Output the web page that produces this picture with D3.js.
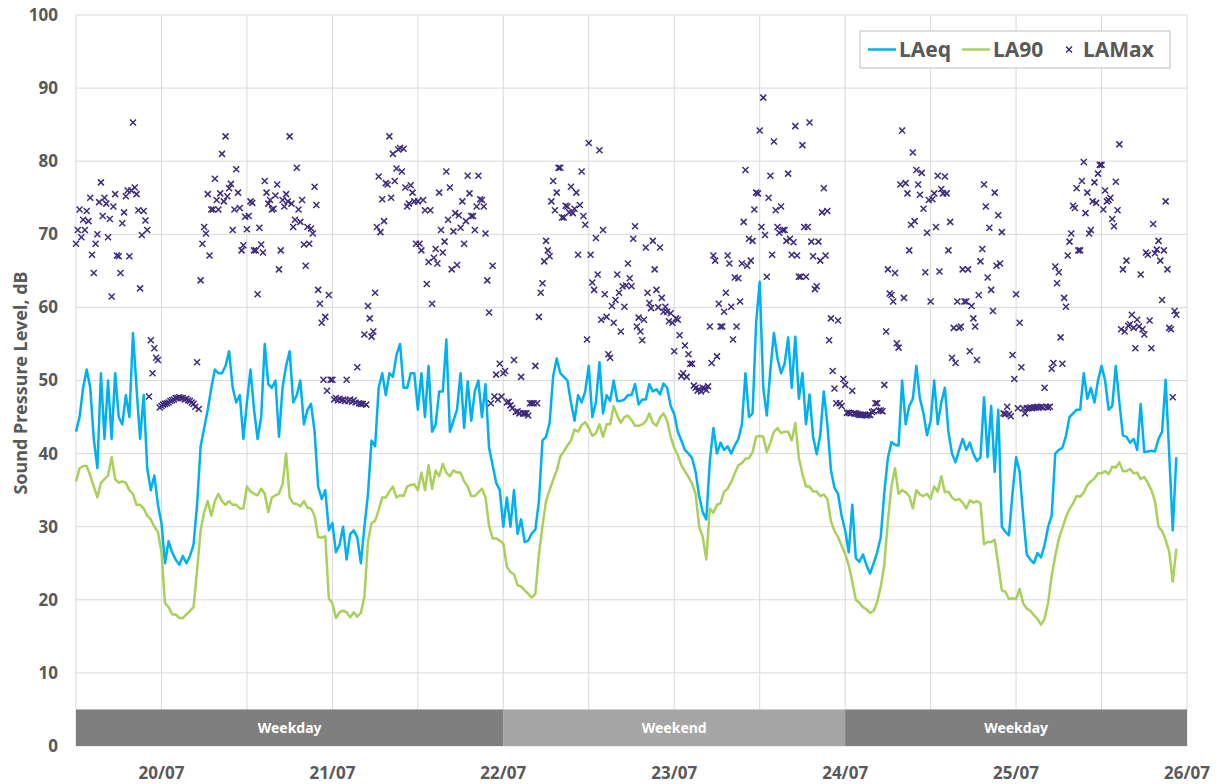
<!DOCTYPE html>
<html>
<head>
<meta charset="utf-8">
<script src="https://cdn.jsdelivr.net/npm/d3@7"></script>
<style>
  body { margin: 0; background: #fff; }
  text { font-family: "Noto Sans", sans-serif; }
</style>
</head>
<body>
<svg id="chart" width="1224" height="784"></svg>
<script>
// half-hourly readings, the first one is 19/07 12:00, one row = 12 hours
let startTime = new Date(2017, 6, 19, 12, 0)
let stepMinutes = 30

let laeq = [
  43, 45, 49, 51.5, 49, 42, 38, 51, 42, 50, 42, 51, 45, 44, 48, 45, 56.5, 49, 42, 48, 38, 35, 37, 33,
  30.5, 25, 28, 26.5, 25.5, 24.8, 26, 25, 26, 27.5, 33, 41, 43.5, 46, 49, 51.5, 51, 51, 52, 54, 49, 47, 48, 42,
  47, 51.5, 46, 42, 45, 55, 49.5, 49, 50, 42.3, 49, 52, 54, 47, 48, 50, 44, 46, 46.8, 43, 35.5, 33.8, 35, 29.5,
  30.5, 26.5, 27.5, 30, 25.5, 29, 29.5, 28.5, 25, 30, 34.5, 41.8, 41, 49, 51, 48, 51, 50.5, 53.5, 55, 49, 49, 51, 51,
  46, 51, 45, 52, 43, 44, 48.5, 48.5, 55.6, 43, 44.5, 46, 51, 43.5, 49.9, 44.5, 48.5, 50, 45, 49.5, 40.8, 38.4, 36, 35,
  30, 34, 30, 35, 29, 31, 27.9, 28.1, 29.1, 29.6, 33.5, 41.8, 42.3, 44.2, 50.6, 53, 51, 50.5, 50, 47, 44.5, 48, 47, 48.5,
  52, 45, 47, 52.5, 45.5, 48, 47.2, 50, 47.2, 47.2, 47.4, 48, 48, 49.5, 46.7, 47.4, 47.4, 49.5, 48.5, 48.8, 48.1, 49.6, 49, 46.5,
  45.4, 43, 41.8, 40.5, 40, 39.4, 37.5, 34.2, 32, 31, 39, 43.5, 40, 41.5, 40.5, 41, 40, 41.1, 42, 44, 51, 45, 45.5, 57.9,
  63.5, 49, 45.2, 51.5, 56.5, 53, 51, 52.3, 55.9, 49, 56, 47.5, 51, 44, 48.1, 42.3, 39.9, 42.5, 48.5, 44, 37.8, 35.3, 34.5, 31.5,
  29.5, 26.5, 33, 25.7, 25.2, 26.2, 24.7, 23.6, 25, 26.5, 28.6, 34.7, 39.4, 41.6, 41.2, 41.1, 50, 44, 46.5, 47.5, 52, 47.5, 45.5, 42.5,
  44.5, 50, 44, 47, 49, 43, 40, 38.8, 40.5, 42, 40.5, 41.5, 40, 39, 39.5, 47.7, 39.5, 46.5, 37.5, 46, 30, 29.3, 28.8, 34.6,
  39.5, 37.5, 31.5, 26.2, 25.5, 25, 26.4, 25.8, 27.5, 30, 31.5, 40, 40.5, 40.8, 42.4, 45, 45.5, 46, 46, 51, 47.5, 49, 47, 50,
  52, 50, 46, 46.5, 52, 47, 42.5, 42.3, 41.5, 42, 40.5, 46.8, 40.2, 40.3, 40.4, 40.3, 42, 43, 50.1, 40, 29.5, 39.5
]

let la90 = [
  36.2, 38, 38.3, 38.3, 37, 35.5, 34, 36, 36.5, 37, 39.5, 36.5, 36, 36.2, 36, 35, 34.5, 33, 33, 32.5, 31.5, 31, 30, 29.3,
  26.5, 19.5, 19, 18, 18, 17.5, 17.5, 18, 18.5, 19, 24, 29.5, 32, 33.5, 31.5, 33.5, 34.5, 33.5, 33, 33.5, 33, 33, 32.5, 32.5,
  35.5, 34.8, 34.5, 34.3, 35.2, 34.5, 32, 34, 34.3, 34.5, 35.8, 40, 34, 33.2, 33.1, 32.8, 33.5, 32.6, 32.5, 31.5, 28.6, 28.5, 28.7, 20.2,
  19.5, 17.5, 18.3, 18.5, 18.3, 17.6, 18.3, 17.7, 18.2, 20.5, 28, 30.5, 30.8, 32.3, 34, 34, 34.8, 35.5, 34, 34.3, 34.2, 35.5, 35.7, 35.8,
  35, 37.4, 35, 38.4, 35.2, 37.7, 36.9, 38.6, 37.4, 36.9, 37.7, 37.4, 37.4, 36.2, 35.5, 34.2, 34.2, 34.7, 35.2, 34, 30.1, 28.4, 28.4, 28.1,
  27.7, 24.5, 23.8, 23.5, 22, 21.8, 21.3, 20.8, 20.3, 20.8, 26.2, 30.1, 33.5, 35, 36.4, 37.7, 39.6, 40.3, 41.1, 41.8, 43.3, 43, 43.9, 44.3,
  43.5, 42.4, 42.8, 44, 42.3, 44, 44, 46.5, 45.2, 44.2, 45, 45.2, 44.6, 43.8, 43.8, 44, 44.4, 45.5, 44.2, 43.8, 44.9, 45.5, 44.5, 42.3,
  40.8, 39.8, 38.4, 37.6, 36.8, 35.9, 34.5, 30, 28.6, 25.5, 32.5, 31.9, 33, 33.2, 34.8, 35.2, 36.1, 37.3, 38.4, 38.7, 39.3, 39.4, 40.2, 42.3,
  42.4, 42.3, 40.2, 41.5, 43, 43.5, 42.8, 43, 43, 41.8, 44.2, 39.4, 37.2, 35.5, 35.5, 34.8, 34.8, 34.2, 34.4, 33.8, 30.8, 29.4, 28.6, 27.4,
  26.3, 24.7, 22.5, 20, 19.6, 19, 18.7, 18.2, 18.5, 19.7, 21.8, 24.8, 30.8, 35.5, 38, 34.5, 35, 34.7, 34.2, 32.5, 35, 34.4, 34.2, 34.5,
  33.8, 35.5, 34.8, 36.9, 34.7, 34.8, 34, 33.6, 33.8, 33.3, 32.5, 33.6, 33.3, 33.5, 33.2, 27.6, 27.9, 27.9, 28.2, 24.8, 21.3, 21.1, 20.1, 20.2,
  20.1, 21.5, 19.5, 18.8, 18.5, 17.9, 17.4, 16.6, 17.4, 19.6, 23.3, 26, 28.3, 29.8, 31.3, 32.4, 33.2, 34.2, 34.1, 34.7, 35.7, 36.2, 36.6, 37.3,
  37.3, 37.6, 37.2, 38.2, 38.1, 38.8, 37.6, 37.6, 37.9, 37.3, 37.4, 36.5, 36.8, 36, 35, 33.5, 30, 29.4, 28.2, 26.6, 22.5, 27
]

// LAMax on the hour and half hour
let lamax = [
  68.7, 73.4, 72, 73.2, 75, 64.7, 70, 77.1, 75, 69.6, 61.5, 75.5, 67, 71.5, 75.2, 67, 85.3, 75.5, 62.6, 73.2, 70.6, 55.5, 54.4, 52.8,
  46.5, 46.8, 47, 47.3, 47.6, 47.7, 47.6, 47.5, 47.2, 46.8, 52.5, 63.7, 71, 75.5, 73.4, 77.6, 73.4, 81, 83.4, 76.3, 70.6, 78.9, 73.6, 68.5,
  70.7, 74.5, 67.8, 61.8, 68.6, 77.3, 74.2, 73.4, 75.3, 65.2, 74.7, 75.5, 83.4, 71, 79.1, 71.7, 68.6, 71, 70.8, 76.5, 62.4, 57.9, 58.7, 61.7,
  50.1, 47.6, 47.5, 47.4, 50.1, 47.4, 47.3, 51.8, 46.8, 56.3, 60.2, 56, 62, 77.9, 74.8, 77, 83.4, 81, 79, 81.8, 81.7, 73.8, 76.7, 74.5,
  74.5, 67.8, 73.3, 66.2, 60.5, 68, 75.7, 67.5, 78.6, 76.4, 70.4, 65.8, 70.9, 68.7, 78, 72.5, 70.6, 78, 74.7, 70.1, 59.3, 65.7, 50.8, 52.3,
  51, 47, 46.6, 52.8, 45.8, 50.5, 45.5, 45.2, 46.9, 52, 58.7, 63.3, 69.1, 67, 77.3, 75.7, 79.1, 72.3, 73.8, 76.5, 73.5, 67.2, 78.6, 71.3,
  82.5, 63.4, 69.5, 81.5, 70.6, 58.7, 53.1, 57.9, 64.5, 56.7, 60.1, 66, 62.9, 71.1, 58.6, 55.5, 68.2, 60.6, 69.1, 62.4, 68.2, 59.4, 59.4, 59.2,
  54, 58.3, 50.6, 54.8, 53.6, 52.3, 49, 48.8, 49, 48.7, 57.4, 67.1, 53.3, 57.4, 59.4, 67.1, 60.1, 64.1, 64, 66, 78.8, 69.4, 69.1, 75.7,
  84.2, 88.7, 64.2, 78, 82.7, 71, 73.8, 70.6, 78.3, 67.2, 84.8, 64.2, 82.2, 64.2, 85.3, 67, 62.9, 66.4, 76.3, 73.2, 58.5, 48.9, 58.2, 46.5,
  49.4, 45.6, 48.6, 45.5, 45.3, 45.3, 45.2, 45.3, 45.8, 46.9, 45.9, 49.4, 65.2, 61.7, 64.7, 54.5, 84.2, 77, 67.8, 81.2, 78.8, 75.4, 73.5, 70.2,
  60.8, 75.6, 78, 76.2, 77.9, 67.8, 53.1, 52.4, 57.2, 65.2, 60.8, 54, 58.5, 52.8, 66.3, 76.8, 64.1, 62.4, 75.7, 72.6, 70.3, 45.4, 45.4, 53.5,
  61.8, 57.9, 46.2, 46.2, 46.3, 46.3, 46.4, 46.4, 49, 46.3, 51.6, 65.6, 64.8, 52.3, 60.1, 69, 73.9, 76.3, 67.8, 79.9, 75.7, 70.6, 77.1, 78.3,
  79.5, 76, 74.7, 72.1, 77.2, 82.3, 65.2, 66.4, 57.7, 57.2, 58.3, 64.5, 56.3, 67.2, 54.4, 67.4, 69.1, 61, 74.5, 57.2, 47.7, 59
]

// LAMax at quarter past and quarter to
let lamaxQuarter = [
  70.6, 69.6, 70.6, 71.8, 67.2, 68.7, 74.4, 72.5, 74.2, 72.1, 73.8, 67.1, 64.7, 73, 76, 76, 76.4, 73.3, 69.9, 71.9, 47.8, 51, 53.1, 46.3,
  46.7, 46.9, 47.2, 47.4, 47.6, 47.6, 47.4, 47.3, 47, 46.4, 46.1, 68.7, 70.1, 67.1, 73.4, 74.7, 75.6, 74.5, 75.2, 76.9, 73.4, 75.7, 67.8, 72.4,
  72.5, 74.3, 67.8, 70.9, 67.5, 75.7, 74.7, 73.5, 76.8, 67.8, 73.8, 74.5, 74.2, 72, 73.4, 74.7, 65.7, 68.7, 70.1, 74, 60.5, 50.1, 48.6, 50.1,
  47.4, 47.3, 47.3, 47.2, 47.2, 47.1, 47, 46.9, 46.8, 46.7, 58.5, 56.7, 71, 70.3, 71.8, 76.8, 75, 77.3, 81.6, 78.6, 76.4, 74.2, 75.7, 68.7,
  68.7, 74.7, 63.2, 73.3, 66.8, 66, 70.6, 69, 72, 65.2, 72.9, 72.6, 74.5, 71.8, 75.6, 72.5, 73.8, 74.8, 73.8, 63.7, 46.9, 47.8, 47.4, 47.8,
  51.3, 47.1, 46.2, 45.7, 45.5, 45.5, 45.5, 46.9, 46.9, 46.9, 62, 66.3, 67.8, 74.5, 73.3, 79.1, 72.3, 73.9, 73, 72.9, 75.7, 74, 72.5, 55.6,
  67.2, 62.4, 64.5, 58.3, 61.8, 53.6, 60.2, 61, 62, 62.9, 63, 64, 69.4, 57.4, 56.7, 58.3, 62, 59.9, 65.2, 60, 61.3, 60.1, 58.1, 57.9,
  58.5, 56.2, 51, 50.5, 52.3, 49.3, 48.6, 48.5, 48.9, 49.2, 52.4, 66.4, 60.5, 57.4, 62, 66, 55.6, 57.4, 60.8, 71.7, 65.7, 66.4, 73.4, 75.6,
  71, 69.9, 75, 67.2, 73.3, 70.2, 70.6, 69.1, 69.4, 68.9, 67.1, 64.2, 71, 71, 69, 62.5, 69, 73, 67.1, 55.5, 51.3, 46.9, 46.9, 50.2,
  45.6, 45.5, 45.5, 45.4, 45.3, 45.3, 45.3, 45.7, 46.9, 45.9, 45.8, 56.7, 61.9, 60.8, 55.1, 76.8, 61.3, 75.6, 71.3, 71.8, 76.8, 78.4, 64.8, 74.7,
  74.8, 71, 64.9, 75.6, 75.6, 71.7, 57.2, 60.8, 57.4, 60.8, 65.2, 60.2, 57.4, 61.7, 68, 73.8, 70.9, 59.5, 65.7, 66, 45.5, 46.4, 45.1, 50.2,
  46.2, 51.8, 45.5, 46.2, 46.2, 46.3, 46.3, 46.3, 46.4, 46.4, 52.4, 63.3, 55.9, 61.3, 67.1, 70.1, 73.6, 67.8, 77.3, 72.9, 70.1, 74.5, 74.3, 79.5,
  73.4, 74.5, 75, 71.1, 73.3, 57, 56.7, 57.5, 59, 54.4, 57.4, 57, 67.5, 58.2, 71.4, 67.9, 66.4, 67.8, 65.2, 57, 59.5
]

let yTicks = [0, 10, 20, 30, 40, 50, 60, 70, 80, 90, 100]
let dayTicks = [20, 21, 22, 23, 24, 25, 26]
let periodNames = ['Weekday', 'Weekend', 'Weekday']
let periodStarts = [new Date(2017, 6, 19, 12), new Date(2017, 6, 22), new Date(2017, 6, 24)]
let periodEnd = new Date(2017, 6, 26)
let seriesNames = ['LAeq', 'LA90', 'LAMax']

let colors = { LAeq: '#00b0f0', LA90: '#a9d05a', LAMax: '#3f2a7e' }
let textColor = '#595959'

let svg = d3.select('#chart')
let x = d3.scaleTime().domain([startTime, periodEnd]).range([76, 1187])
let y = d3.scaleLinear().domain([0, 100]).range([746, 15])
let timeAt = (i, offsetMinutes = 0) => new Date(+startTime + (i * stepMinutes + offsetMinutes) * 60000)

// grid
svg.append('g').selectAll('line').data(yTicks).join('line')
  .attr('x1', x.range()[0]).attr('x2', x.range()[1])
  .attr('y1', d => y(d)).attr('y2', d => y(d))
  .attr('stroke', '#d9d9d9').attr('stroke-width', 1)

let halfDays = d3.timeHour.every(12).range(startTime, new Date(+periodEnd + 1))
svg.append('g').selectAll('line').data(halfDays).join('line')
  .attr('x1', d => x(d)).attr('x2', d => x(d))
  .attr('y1', y(0)).attr('y2', y(100))
  .attr('stroke', '#d9d9d9').attr('stroke-width', 1)

// weekday / weekend band along the bottom
let periods = periodNames.map((name, i) => ({
  name: name,
  from: periodStarts[i],
  to: i + 1 < periodStarts.length ? periodStarts[i + 1] : periodEnd
}))
let band = svg.append('g')
band.selectAll('rect').data(periods).join('rect')
  .attr('x', d => x(d.from)).attr('width', d => x(d.to) - x(d.from))
  .attr('y', y(5)).attr('height', y(0) - y(5))
  .attr('fill', d => d.name === 'Weekend' ? '#a6a6a6' : '#7f7f7f')
band.selectAll('text').data(periods).join('text')
  .attr('x', d => (x(d.from) + x(d.to)) / 2).attr('y', y(2.5))
  .attr('dy', '0.35em').attr('text-anchor', 'middle')
  .attr('fill', '#fff').attr('font-size', 14).attr('font-weight', 'bold')
  .text(d => d.name)

// series
let line = d3.line().x((d, i) => x(timeAt(i))).y(d => y(d))
svg.append('path').datum(laeq).attr('d', line)
  .attr('fill', 'none').attr('stroke', colors.LAeq).attr('stroke-width', 2.5)
  .attr('stroke-linejoin', 'round')
svg.append('path').datum(la90).attr('d', line)
  .attr('fill', 'none').attr('stroke', colors.LA90).attr('stroke-width', 2.5)
  .attr('stroke-linejoin', 'round')

let cross = 'M-3,-3L3,3M-3,3L3,-3'
let maxPoints = lamax.map((v, i) => ({ t: timeAt(i), v: v }))
  .concat(lamaxQuarter.map((v, i) => ({ t: timeAt(i, 15), v: v })))
svg.append('g').selectAll('path').data(maxPoints).join('path')
  .attr('d', cross)
  .attr('transform', d => `translate(${x(d.t)},${y(d.v)})`)
  .attr('stroke', colors.LAMax).attr('stroke-width', 1.5).attr('fill', 'none')

// axes text
svg.append('g').selectAll('text').data(yTicks).join('text')
  .attr('x', 58).attr('y', d => y(d)).attr('dy', '0.35em')
  .attr('text-anchor', 'end').attr('fill', textColor)
  .attr('font-size', 17).attr('font-weight', 'bold')
  .text(d => d)

let fmt = d3.timeFormat('%d/%m')
svg.append('g').selectAll('text').data(dayTicks).join('text')
  .attr('x', d => x(new Date(2017, 6, d))).attr('y', 773).attr('dy', '0.35em')
  .attr('text-anchor', 'middle').attr('fill', textColor)
  .attr('font-size', 17).attr('font-weight', 'bold')
  .text(d => fmt(new Date(2017, 6, d)))

svg.append('text')
  .attr('transform', 'translate(21,383) rotate(-90)')
  .attr('dy', '0.35em').attr('text-anchor', 'middle')
  .attr('fill', textColor).attr('font-size', 18).attr('font-weight', 'bold')
  .text('Sound Pressure Level, dB')

// legend
let legend = svg.append('g')
legend.append('rect').attr('x', 860).attr('y', 31).attr('width', 310).attr('height', 37)
  .attr('fill', '#fff').attr('stroke', '#bfbfbf')
let legendX = { LAeq: 868, LA90: 962, LAMax: 1062 }
seriesNames.forEach(name => {
  let lx = legendX[name]
  if (name === 'LAMax') {
    legend.append('path').attr('d', cross)
      .attr('transform', `translate(${lx + 7},49.5)`)
      .attr('stroke', colors.LAMax).attr('stroke-width', 1.5)
    legend.append('text').attr('x', lx + 21).attr('y', 49.5).attr('dy', '0.35em')
      .attr('fill', textColor).attr('font-size', 21).attr('font-weight', 'bold').text(name)
  } else {
    legend.append('line').attr('x1', lx).attr('x2', lx + 28)
      .attr('y1', 49.5).attr('y2', 49.5)
      .attr('stroke', colors[name]).attr('stroke-width', 2.5)
    legend.append('text').attr('x', lx + 31).attr('y', 49.5).attr('dy', '0.35em')
      .attr('fill', textColor).attr('font-size', 21).attr('font-weight', 'bold').text(name)
  }
})
</script>
</body>
</html>
